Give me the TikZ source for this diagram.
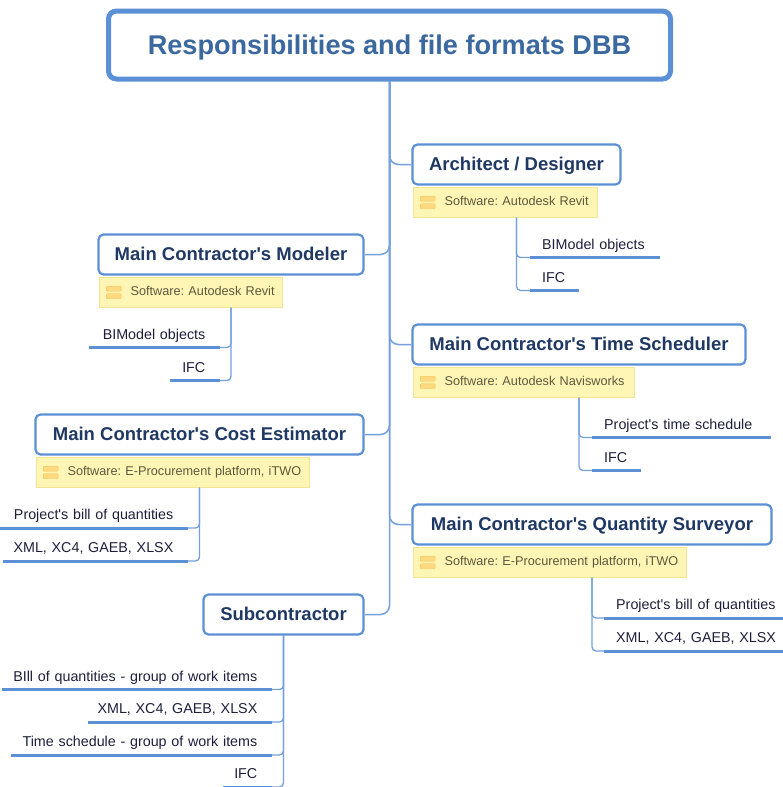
\documentclass[tikz,border=0pt]{standalone}
\usepackage{fontspec}
\setmainfont{Liberation Sans}
\usetikzlibrary{positioning}
\frenchspacing
\definecolor{mapblue}{HTML}{5B8FD6}
\definecolor{mapline}{HTML}{74A0DE}
\definecolor{titletext}{HTML}{3A689F}
\definecolor{topictext}{HTML}{1F3864}
\definecolor{notefill}{HTML}{FFF5B5}
\definecolor{noteedge}{HTML}{F7E394}
\definecolor{notetext}{HTML}{5C5A3E}
\definecolor{iconfill}{HTML}{FFD97F}
\definecolor{iconedge}{HTML}{F9BF4A}
\definecolor{leaftext}{HTML}{1E1E3C}
\tikzset{
  noteicon/.pic={
    \draw[draw=iconedge, fill=iconfill, rounded corners=1pt] (7,-6) rectangle (22,-1);
    \draw[draw=iconedge, fill=iconfill, rounded corners=1pt] (7,1.5) rectangle (22,6.5);
  }
}
\begin{document}
\begin{tikzpicture}[x=1pt, y=-1pt,
  root/.style={draw=mapblue, line width=5pt, fill=white, rounded corners=8pt, minimum width=562pt, minimum height=68pt, text=titletext, text height=19pt, text depth=0pt, font=\fontsize{27.1}{30}\selectfont\bfseries},
  topic/.style={draw=mapblue, line width=2.2pt, fill=white, rounded corners=5pt, minimum height=40pt, text=topictext, text height=13pt, text depth=1pt, font=\fontsize{18.5}{22}\selectfont\bfseries},
  note/.style={draw=noteedge, line width=0.8pt, fill=notefill, minimum height=30pt, inner xsep=2pt, inner ysep=0pt, text=notetext, align=left, text height=9pt, text depth=3pt, font=\fontsize{12.7}{15}\selectfont, execute at begin node={\hspace*{29pt}}},
  leafr/.style={inner xsep=3pt, inner ysep=5pt, align=left, text=leaftext, text height=10pt, text depth=3pt, font=\fontsize{14.3}{16}\selectfont, execute at begin node={\hspace*{9pt}}},
  leafl/.style={inner xsep=3pt, inner ysep=5pt, align=right, text=leaftext, text height=10pt, text depth=3pt, font=\fontsize{14.3}{16}\selectfont, execute at end node={\hspace*{11.5pt}}},
  under/.style={draw=mapblue, line width=3pt},
  spine/.style={draw=mapline, line width=1.5pt, rounded corners=9pt},
  twig/.style={draw=mapline, line width=1.3pt, rounded corners=4pt}]
  \useasboundingbox (0,0) rectangle (783,787);

  % Topics
  \node[topic, minimum width=208pt] (arch) at (516.5,164.5) {Architect / Designer};
  \node[topic, minimum width=333pt] (time) at (579,344.5) {Main Contractor\textquotesingle s Time Scheduler};
  \node[topic, minimum width=359pt] (surveyor) at (592,524.5) {Main Contractor\textquotesingle s Quantity Surveyor};
  \node[topic, minimum width=265pt] (modeler) at (231,254.5) {Main Contractor\textquotesingle s Modeler};
  \node[topic, minimum width=328pt] (cost) at (199.5,434.5) {Main Contractor\textquotesingle s Cost Estimator};
  \node[topic, minimum width=160pt] (sub) at (283.5,614.5) {Subcontractor};

  % Notes
  \node[note, text width=180pt, below right=1.2pt and 1.8pt of arch.south west] (archnote) {Software: Autodesk Revit};
  \node[note, text width=217pt, below right=1.2pt and 1.8pt of time.south west] (timenote) {Software: Autodesk Navisworks};
  \node[note, text width=269pt, below right=1.2pt and 1.8pt of surveyor.south west] (surveynote) {Software: E-Procurement platform, iTWO};
  \node[note, text width=179pt, below right=1.2pt and 1.8pt of modeler.south west] (modelnote) {Software: Autodesk Revit};
  \node[note, text width=269pt, below right=1.2pt and 1.8pt of cost.south west] (costnote) {Software: E-Procurement platform, iTWO};
  \pic at (archnote.west) {noteicon};
  \pic at (timenote.west) {noteicon};
  \pic at (surveynote.west) {noteicon};
  \pic at (modelnote.west) {noteicon};
  \pic at (costnote.west) {noteicon};

  % Leaves
  \node[leafr, text width=124pt, anchor=south west] (archbim) at (530,257.5) {BIModel objects};
  \node[leafr, text width=43pt, anchor=south west] (archifc) at (530,290.5) {IFC};
  \node[leafr, text width=173pt, anchor=south west] (timeplan) at (592,437.5) {Project\textquotesingle s time schedule};
  \node[leafr, text width=43pt, anchor=south west] (timeifc) at (592,470.5) {IFC};
  \node[leafr, text width=173pt, anchor=south west] (surveybill) at (604,618) {Project\textquotesingle s bill of quantities};
  \node[leafr, text width=173pt, anchor=south west] (surveyxml) at (604,651) {XML, XC4, GAEB, XLSX};
  \node[leafl, text width=125pt, anchor=south east] (modelbim) at (220,347.5) {BIModel objects};
  \node[leafl, text width=44pt, anchor=south east] (modelifc) at (220,380.5) {IFC};
  \node[leafl, text width=182pt, anchor=south east] (costbill) at (188,528) {Project\textquotesingle s bill of quantities};
  \node[leafl, text width=179pt, anchor=south east] (costxml) at (188,561) {XML, XC4, GAEB, XLSX};
  \node[leafl, text width=264pt, anchor=south east] (subbill) at (272,689.5) {BIll of quantities - group of work items};
  \node[leafl, text width=178pt, anchor=south east] (subxml) at (272,722) {XML, XC4, GAEB, XLSX};
  \node[leafl, text width=255pt, anchor=south east] (subplan) at (272,755) {Time schedule - group of work items};
  \node[leafl, text width=43pt, anchor=south east] (subifc) at (272,787) {IFC};

  % Underlines
  \draw[under] (archbim.south west) -- (archbim.south east);
  \draw[under] (archifc.south west) -- (archifc.south east);
  \draw[under] (timeplan.south west) -- (timeplan.south east);
  \draw[under] (timeifc.south west) -- (timeifc.south east);
  \draw[under] (surveybill.south west) -- (surveybill.south east);
  \draw[under] (surveyxml.south west) -- (surveyxml.south east);
  \draw[under] (modelbim.south west) -- (modelbim.south east);
  \draw[under] (modelifc.south west) -- (modelifc.south east);
  \draw[under] (costbill.south west) -- (costbill.south east);
  \draw[under] (costxml.south west) -- (costxml.south east);
  \draw[under] (subbill.south west) -- (subbill.south east);
  \draw[under] (subxml.south west) -- (subxml.south east);
  \draw[under] (subplan.south west) -- (subplan.south east);
  \draw[under] (subifc.south west) -- (subifc.south east);

  % Twigs
  \draw[twig] (arch.south |- archnote.south) |- (archbim.south west);
  \draw[twig] (arch.south |- archnote.south) |- (archifc.south west);
  \draw[twig] (time.south |- timenote.south) |- (timeplan.south west);
  \draw[twig] (time.south |- timenote.south) |- (timeifc.south west);
  \draw[twig] (surveyor.south |- surveynote.south) |- (surveybill.south west);
  \draw[twig] (surveyor.south |- surveynote.south) |- (surveyxml.south west);
  \draw[twig] (modeler.south |- modelnote.south) |- (modelbim.south east);
  \draw[twig] (modeler.south |- modelnote.south) |- (modelifc.south east);
  \draw[twig] (cost.south |- costnote.south) |- (costbill.south east);
  \draw[twig] (cost.south |- costnote.south) |- (costxml.south east);
  \draw[twig] (sub.south) |- (subbill.south east);
  \draw[twig] (sub.south) |- (subxml.south east);
  \draw[twig] (sub.south) |- (subplan.south east);
  \draw[twig] (sub.south) |- (subifc.south east);

  % Root and spine
  \node[root] (title) at (389.5,45) {Responsibilities and file formats DBB};
  \draw[spine] (title.south) |- (arch.west);
  \draw[spine] (title.south) |- (time.west);
  \draw[spine] (title.south) |- (surveyor.west);
  \draw[spine] (title.south) |- (modeler.east);
  \draw[spine] (title.south) |- (cost.east);
  \draw[spine] (title.south) |- (sub.east);
\end{tikzpicture}
\end{document}
